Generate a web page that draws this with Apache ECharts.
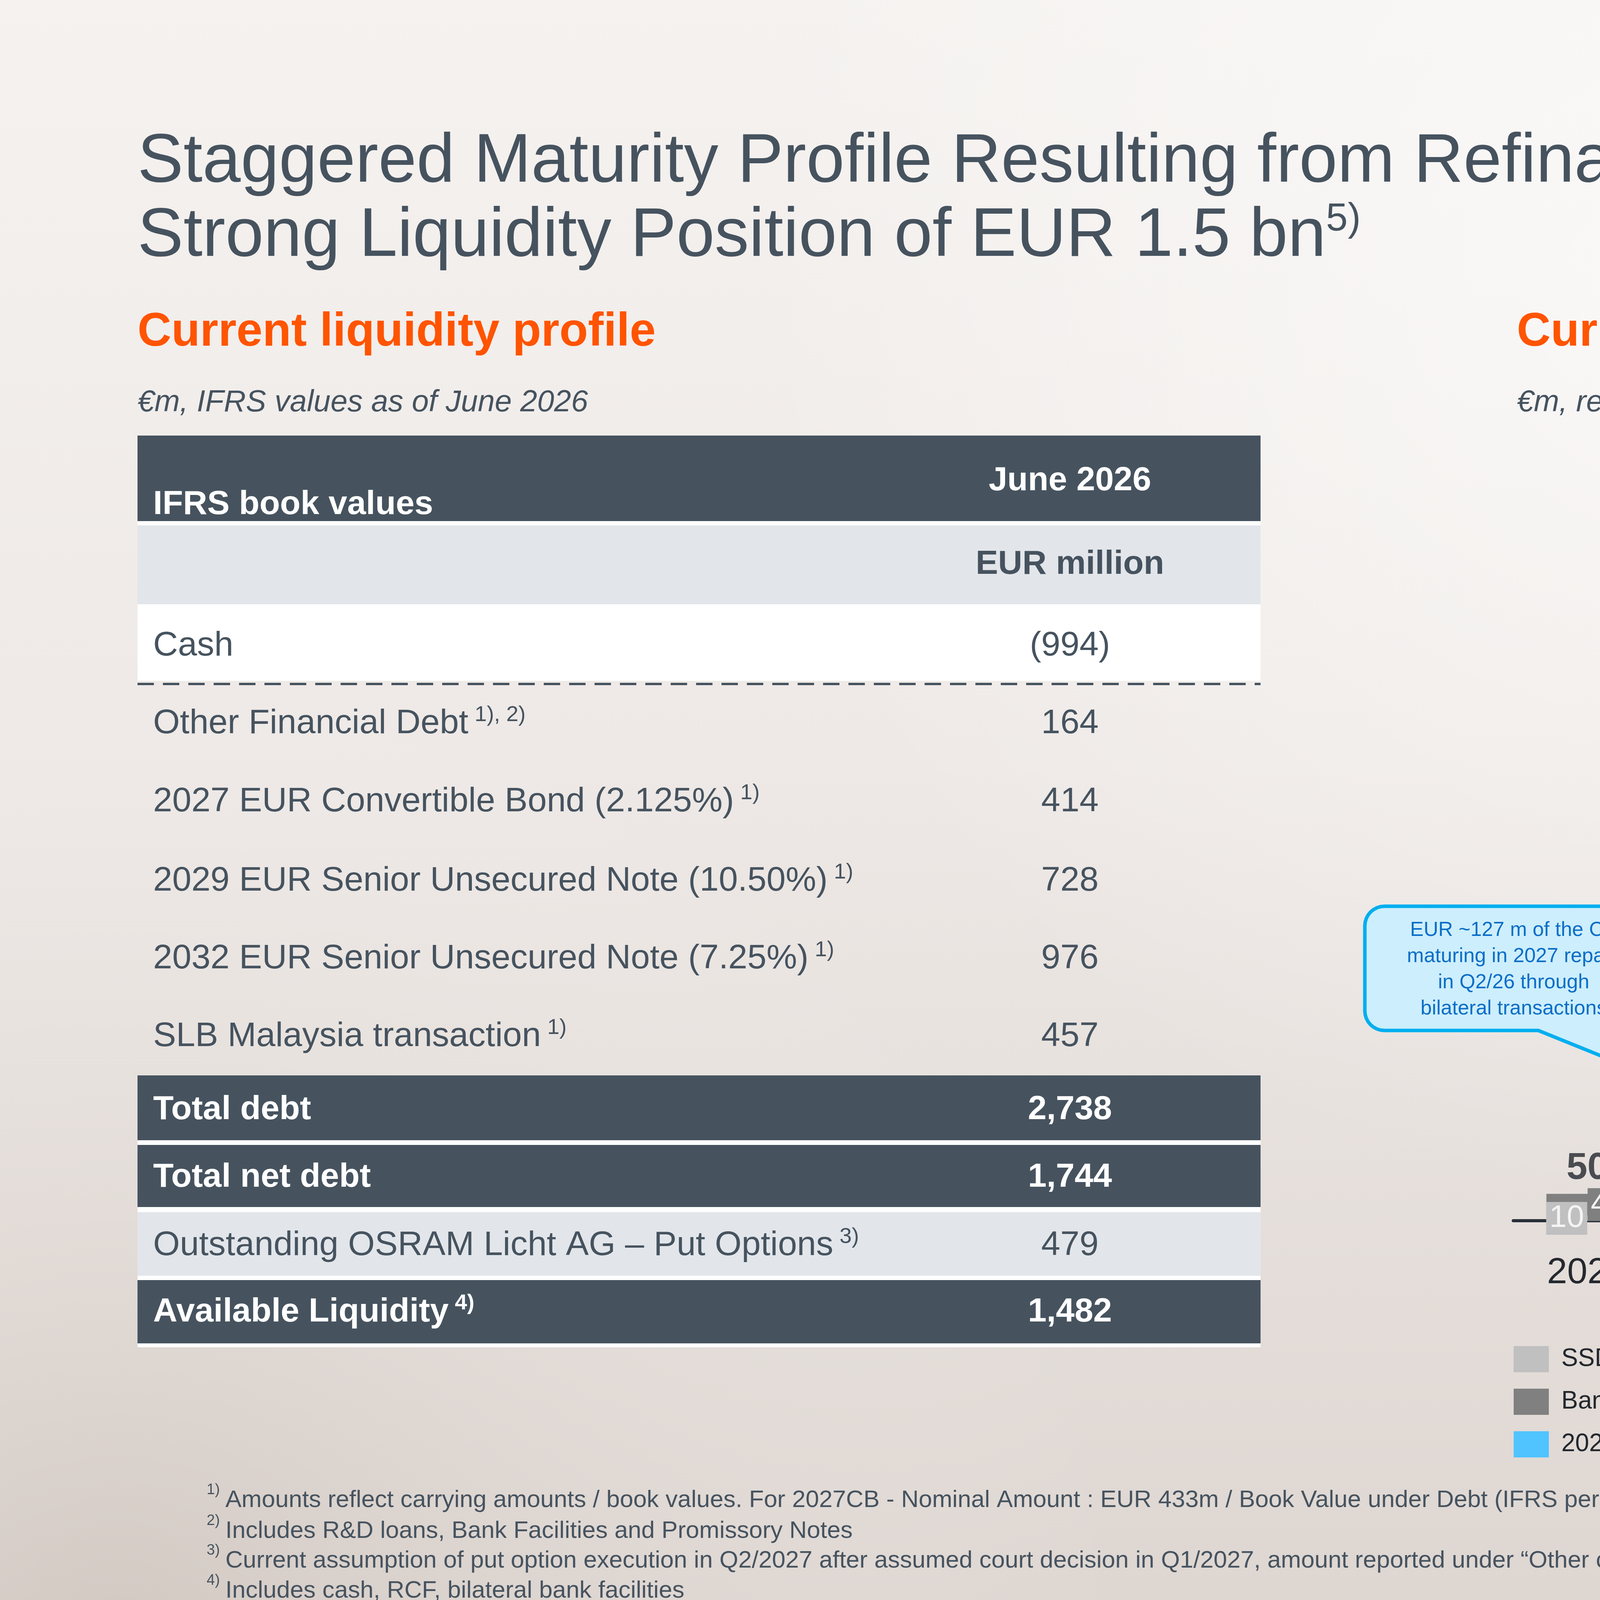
<!DOCTYPE html>
<html>
<head>
<meta charset="utf-8">
<title>Staggered Maturity Profile</title>
<script src="https://cdn.jsdelivr.net/npm/echarts@6/dist/echarts.min.js"></script>
<style>
html, body { margin: 0; padding: 0; }
#chartmain { width: 7680px; height: 4320px; }
</style>
</head>
<body>
<div id="chartmain"></div>
<script>
// chart data
var years = ['2026', '2027', '2028', '2029', '2030', '2031', '2032', '2033'];
var ssdNotes = [10, null, null, null, null, null, null, null];
var bankFacilities = [40, 100, null, null, null, null, null, 14];
var cb2027 = [null, 433, null, null, null, null, null, null];
var hyb2029 = [null, null, null, 725, null, null, null, null];
var hyb2032 = [null, null, null, null, null, null, 1000, null];
var slbMalaysia = [null, null, null, null, null, null, null, 559];
var putOptions = [null, 479, null, null, null, null, null, null];
var totals = [50, 1012, null, 725, null, null, 1000, 573];
var totalLabels = ['50', '~1,012', '', '725', '', '', '1,000', '573'];

// table data
var tableLabels = ['Cash', 'Other Financial Debt', '2027 EUR Convertible Bond (2.125%)',
	'2029 EUR Senior Unsecured Note (10.50%)', '2032 EUR Senior Unsecured Note (7.25%)',
	'SLB Malaysia transaction', 'Total debt', 'Total net debt',
	'Outstanding OSRAM Licht AG \u2013 Put Options', 'Available Liquidity'];
var tableNotes = ['', '1), 2)', '1)', '1)', '1)', '1)', '', '', '3)', '4)'];
var tableValues = ['(994)', '164', '414', '728', '976', '457', '2,738', '1,744', '479', '1,482'];

// ^ marks a superscript run
var footNotes = [
	'Amounts reflect carrying amounts / book values. For 2027CB - Nominal Amount : EUR 433m / Book Value under Debt (IFRS per June 2026): EUR 414m',
	'Includes R&D loans, Bank Facilities and Promissory Notes',
	'Current assumption of put option execution in Q2/2027 after assumed court decision in Q1/2027, amount reported under \u201cOther current financial liabilities\u201d does not include any accrued interests',
	'Includes cash, RCF, bilateral bank facilities',
	'Excluding the proceeds from the sale of the non-optical sensor business to Infineon which were received on July-1^st^. Incl. proceeds, liquidity stands at approx. EUR 2.1 bn)',
	'Without related guarantee dividend and related interest and subject to percentage of shareholders tendering their OSRAM shares after final court decision'
];

var FONT = '"Liberation Sans", Arial, sans-serif';
var SLATE = '#46535f';
var DARK = '#22272d';
var ORANGE = '#ff5400';

// hatch pattern for the put options
var hatch = document.createElement('canvas');
hatch.width = 16;
hatch.height = 16;
var hc = hatch.getContext('2d');
hc.fillStyle = '#fff';
hc.fillRect(0, 0, 16, 16);
hc.strokeStyle = '#111';
hc.lineWidth = 5;
[-16, 0, 16].forEach(function(o) {
	hc.beginPath();
	hc.moveTo(o, 16);
	hc.lineTo(o + 16, 0);
	hc.stroke();
});

// graphic helpers
var g = [];
function addText(x, y, text, style, z) {
	g.push({
		type: 'text', x: x, y: y, z: z || 10, silent: true,
		style: Object.assign({
			text: text, fill: SLATE, fontFamily: FONT, fontSize: 88,
			align: 'left', verticalAlign: 'middle'
		}, style)
	});
}
function addRect(x, y, w, h, fill, z) {
	g.push({ type: 'rect', z: z || 5, silent: true, shape: { x: x, y: y, width: w, height: h }, style: { fill: fill } });
}
function glow(cx, cy, r, color0) {
	g.push({
		type: 'circle', z: 0, silent: true,
		shape: { cx: cx, cy: cy, r: r },
		style: { fill: {
			type: 'radial', x: 0.5, y: 0.5, r: 0.5,
			colorStops: [{ offset: 0, color: color0 }, { offset: 1, color: 'rgba(255,255,255,0)' }]
		} }
	});
}

// background light
glow(4300, 700, 2400, 'rgba(255,255,255,0.6)');
glow(7000, 200, 1800, 'rgba(255,255,255,0.7)');
glow(300, 4200, 2600, 'rgba(190,176,167,0.35)');
// soft curved swoosh: path is drawn off-canvas so only its blurred shadow shows
g.push({
	type: 'bezierCurve', z: 0, silent: true, x: -10000,
	shape: { x1: 4750, y1: -100, cpx1: 5750, cpy1: 900, cpx2: 5750, cpy2: 1700, x2: 4600, y2: 2300 },
	style: { stroke: '#fff', lineWidth: 90, fill: null, shadowBlur: 160, shadowColor: 'rgba(255,255,255,0.9)', shadowOffsetX: 10000 }
});

// title
addText(352, 416, 'Staggered Maturity Profile Resulting from Refinancing Measures in Q2/26, Supported by a', { fontSize: 176 });
addText(352, 606, '{m|Strong Liquidity Position of EUR 1.5 bn}{s|5)}', {
	rich: {
		m: { fontSize: 176, lineHeight: 200, fill: SLATE, fontFamily: FONT },
		s: { fontSize: 100, verticalAlign: 'top', fill: SLATE, fontFamily: FONT, padding: [6, 0, 0, 0] }
	}
});

// section headers
addText(352, 852, 'Current liquidity profile', { fontSize: 120, fontWeight: 'bold', fill: ORANGE });
addText(3883, 852, 'Current debt maturity profile', { fontSize: 120, fontWeight: 'bold', fill: ORANGE });
addText(352, 1031, '\u20acm, IFRS values as of June 2026', { fontSize: 78, fontStyle: 'italic' });
addText(3883, 1031, '\u20acm, repayment amounts as of June 2026', { fontSize: 78, fontStyle: 'italic' });

// table backgrounds
var TL = 352, TW = 2875, VX = 2739;
addRect(TL, 1115, TW, 628, '#ffffff');
addRect(TL, 1115, TW, 219, SLATE);
addRect(TL, 1345, TW, 202, '#e2e6ea');
g.push({
	type: 'line', z: 6, silent: true,
	shape: { x1: TL, y1: 1751, x2: TL + TW, y2: 1751 },
	style: { stroke: SLATE, lineWidth: 6, lineDash: [42, 23] }
});
addRect(TL, 2753, TW, 696, '#ffffff');
addRect(TL, 2753, TW, 166, SLATE);
addRect(TL, 2931, TW, 159, SLATE);
addRect(TL, 3103, TW, 163, '#e2e6ea');
addRect(TL, 3277, TW, 162, SLATE);

addText(392, 1292, 'IFRS book values', { fontSize: 86, fontWeight: 'bold', fill: '#fff' });
addText(VX, 1231, 'June 2026', { fontSize: 86, fontWeight: 'bold', fill: '#fff', align: 'center' });
addText(VX, 1445, 'EUR million', { fontSize: 86, fontWeight: 'bold', fill: SLATE, align: 'center' });

var rowMid = [1654, 1853, 2053, 2256, 2455, 2654, 2841, 3014, 3189, 3359];
var rowDark = [false, false, false, false, false, false, true, true, false, true];
tableLabels.forEach(function(lab, i) {
	var col = rowDark[i] ? '#fff' : SLATE;
	var w = rowDark[i] ? 'bold' : 'normal';
	var txt = '{m|' + lab + '}' + (tableNotes[i] ? '{s|' + tableNotes[i] + '}' : '');
	addText(392, rowMid[i], txt, {
		rich: {
			m: { fontSize: rowDark[i] ? 86 : 88, fontWeight: w, fill: col, fontFamily: FONT, lineHeight: 100 },
			s: { fontSize: 56, fontWeight: w, fill: col, fontFamily: FONT, verticalAlign: 'top', padding: [0, 0, 0, 16] }
		}
	});
	addText(VX, rowMid[i], tableValues[i], { fontSize: rowDark[i] ? 86 : 88, fontWeight: w, fill: col, align: 'center' });
});

// footnotes
var noteBase = [3863, 3942, 4018, 4095, 4172, 4248];
footNotes.forEach(function(t, i) {
	var parts = t.split('^');
	var rich = parts.map(function(p, k) { return '{' + (k % 2 ? 's' : 'm') + '|' + p + '}'; }).join('');
	addText(529, noteBase[i] - 48, (i + 1) + ')', { fontSize: 38 });
	addText(577, noteBase[i] - 22, rich, {
		rich: {
			m: { fontSize: 62, fill: SLATE, fontFamily: FONT, lineHeight: 70 },
			s: { fontSize: 38, fill: SLATE, fontFamily: FONT, verticalAlign: 'top' }
		}
	});
});
addText(360, 4135, '15', { fontSize: 70, fill: '#333' });

// logo
addText(6532, 4108, 'am', { fontSize: 150, fontWeight: 'bold', fill: SLATE });
addText(6758, 4108, 'ui', { fontSize: 150, fill: '#5f6b75' });
addText(6935, 4113, 'OSRAM', { fontSize: 106, fontWeight: 'bold', fill: ORANGE });

// callout bubble (rounded box with a pointer), drawn below the bars
var L = 3494, R = 4255, T = 2320, B = 2638, rad = 50;
function arc(cx, cy, a0, a1) {
	var pts = [];
	for (var k = 0; k <= 8; k++) {
		var a = a0 + (a1 - a0) * k / 8;
		pts.push([cx + rad * Math.cos(a), cy + rad * Math.sin(a)]);
	}
	return pts;
}
var bubble = [].concat(
	arc(R - rad, T + rad, -Math.PI / 2, 0),
	arc(R - rad, B - rad, 0, Math.PI / 2),
	[[4122, B], [4445, 2843], [3938, B]],
	arc(L + rad, B - rad, Math.PI / 2, Math.PI),
	arc(L + rad, T + rad, Math.PI, Math.PI * 1.5)
);
g.push({
	type: 'polygon', z: 1, silent: true,
	shape: { points: bubble },
	style: { fill: '#cdeefc', stroke: '#00aeef', lineWidth: 9, lineJoin: 'miter' }
});
addText(3875, 2482, 'EUR ~127 m of the CB\nmaturing in 2027 repaid\nin Q2/26 through\nbilateral transactions',
	{ fontSize: 52, lineHeight: 67, fill: '#0a6ec7', align: 'center' }, 1);

// per-bar label overrides
var boxLabel = { show: true, position: 'inside', fontFamily: FONT, color: '#f4f4f4' };
var ssdLabels = {
	'2026': Object.assign({}, boxLabel, { backgroundColor: '#c0c0c0', fontSize: 80, lineHeight: 80, padding: [2, 8], offset: [-53, 1] })
};
var bankLabels = {
	'2026': Object.assign({}, boxLabel, { backgroundColor: '#808080', fontSize: 80, lineHeight: 80, padding: [2, 8], offset: [53, 0] }),
	'2027': { show: true, position: 'inside', fontSize: 80, color: '#fff', fontFamily: FONT },
	'2033': Object.assign({}, boxLabel, { backgroundColor: '#808080', fontSize: 88, lineHeight: 88, padding: [6, 20], offset: [0, 0] })
};
function withLabels(values, labels) {
	return values.map(function(v, i) {
		var item = { value: v };
		if (labels[years[i]]) item.label = labels[years[i]];
		return item;
	});
}
function stackBar(name, values, color, label) {
	return {
		name: name, type: 'bar', stack: 'debt', barWidth: 210,
		data: values, itemStyle: { color: color },
		label: label || { show: false }
	};
}
var inner = function(size) {
	return { show: true, position: 'inside', color: '#fff', fontSize: size, fontFamily: FONT };
};

var option = {
	animation: false,
	backgroundColor: {
		type: 'linear', x: 0, y: 0, x2: 0, y2: 1,
		colorStops: [
			{ offset: 0, color: '#f5f2f0' },
			{ offset: 0.45, color: '#eee9e6' },
			{ offset: 1, color: '#dcd4cf' }
		]
	},
	textStyle: { fontFamily: FONT },
	graphic: { elements: g },
	grid: { left: 3874, top: 1610, width: 3036, height: 1515 },
	xAxis: {
		type: 'category', data: years,
		axisLine: { lineStyle: { color: '#2a3038', width: 8 } },
		axisTick: { show: false },
		axisLabel: { fontSize: 93, color: '#25292f', margin: 88, fontFamily: FONT },
		splitLine: { show: false }
	},
	yAxis: { type: 'value', min: 0, max: 1100, show: false, splitLine: { show: false } },
	legend: [
		{ data: ['SSD / Promissory Notes', 'Bank Facilities', '2027 EUR CB (2.125%)'], left: 3875 },
		{ data: ['2029 EUR HYB (10.50%)', '2032 EUR HYB (7.25%)', 'SLB Malaysia (6.00%)'], left: 4751 },
		{ data: ['OSRAM Licht AG - Put Options'], left: 5664 }
	].map(function(l) {
		return Object.assign({
			top: 3446, orient: 'vertical', icon: 'rect', itemWidth: 90, itemHeight: 67, itemGap: 42,
			padding: 0, selectedMode: false,
			textStyle: { fontSize: 64, color: DARK, fontFamily: FONT, padding: [0, 0, 0, 27] }
		}, l);
	}),
	series: [
		stackBar('SSD / Promissory Notes', withLabels(ssdNotes, ssdLabels), '#c0c0c0'),
		stackBar('Bank Facilities', withLabels(bankFacilities, bankLabels), '#808080'),
		stackBar('2027 EUR CB (2.125%)', cb2027, '#50c4ff', inner(88)),
		stackBar('2029 EUR HYB (10.50%)', hyb2029, '#0399e1'),
		stackBar('2032 EUR HYB (7.25%)', hyb2032, '#0277b6'),
		stackBar('SLB Malaysia (6.00%)', slbMalaysia, '#005380', inner(96)),
		stackBar('OSRAM Licht AG - Put Options', putOptions, { image: hatch, repeat: 'repeat' }, {
			show: true, position: 'inside', offset: [26, 0],
			formatter: function(p) { return '{a|~' + p.value + '}{b|6)}'; },
			rich: {
				a: { backgroundColor: '#fff', color: DARK, fontSize: 88, lineHeight: 88, padding: [8, 22], fontFamily: FONT },
				b: { color: DARK, fontSize: 55, verticalAlign: 'top', padding: [0, 0, 0, 4], fontFamily: FONT }
			}
		}),
		{
			name: 'total', type: 'scatter', data: totals, symbol: 'rect', symbolSize: 1,
			itemStyle: { color: 'rgba(0,0,0,0)' }, silent: true,
			label: {
				show: true, position: 'top', distance: 16, fontSize: 96, fontWeight: 'bold', color: DARK, fontFamily: FONT,
				formatter: function(p) { return totalLabels[p.dataIndex]; }
			}
		}
	]
};

var myChart = echarts.init(document.getElementById('chartmain'));
myChart.setOption(option);
</script>
</body>
</html>
